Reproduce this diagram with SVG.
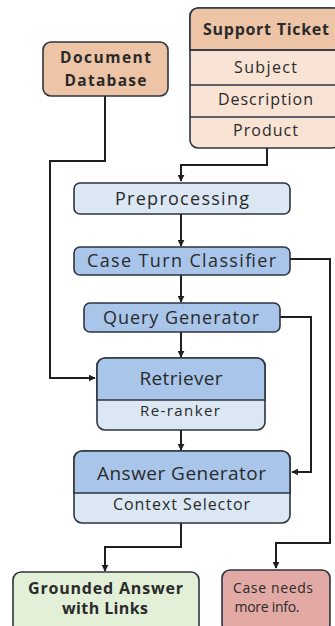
<svg xmlns="http://www.w3.org/2000/svg" width="335" height="626" viewBox="0 0 335 626">
<defs>
<marker id="ah" viewBox="0 0 10 10" refX="9" refY="5" markerWidth="7" markerHeight="7" markerUnits="userSpaceOnUse" orient="auto">
<path d="M0,0 L10,5 L0,10 z" fill="#1f1f1f"/>
</marker>
<style>
text{font-family:"Open Sans","Noto Sans","Liberation Sans",sans-serif;fill:#2a2a2a;text-anchor:middle}
.b{font-weight:bold}
.box{stroke:#2c3540;stroke-width:1.6}
.peach{fill:#EEC4A6}
.peachL{fill:#F8E3D5}
.blue{fill:#A9C6EA}
.blueL{fill:#DCE7F4}
.green{fill:#E2F0D8}
.red{fill:#E3A9A4}
.conn{fill:none;stroke:#1f1f1f;stroke-width:2}
</style>
</defs>
<rect width="335" height="626" fill="#ffffff"/>

<g id="connectors">
<path class="conn" d="M105,96 V161 H50 V378 H95" marker-end="url(#ah)"/>
<path class="conn" d="M267,148 V165 H181 V181" marker-end="url(#ah)"/>
<path class="conn" d="M181,214 V246" marker-end="url(#ah)"/>
<path class="conn" d="M181,275 V302" marker-end="url(#ah)"/>
<path class="conn" d="M290,259 H330 V543 H276 V568" marker-end="url(#ah)"/>
<path class="conn" d="M280,317 H311 V472 H292" marker-end="url(#ah)"/>
<path class="conn" d="M181,332 V357" marker-end="url(#ah)"/>
<path class="conn" d="M181,430 V450" marker-end="url(#ah)"/>
<path class="conn" d="M181,523 V547 H105 V571" marker-end="url(#ah)"/>
</g>

<g id="document-database">
<rect class="box peach" x="43" y="42" width="125" height="54" rx="8"/>
<text class="b" x="105.5" y="63" font-size="15.5" textLength="91">Document</text>
<text class="b" x="105.5" y="86" font-size="15.5" textLength="82">Database</text>
</g>

<g id="support-ticket">
<rect class="box peachL" x="190" y="8" width="150" height="140" rx="8"/>
<path class="box peach" d="M190,50 V16 a8,8 0 0 1 8,-8 H340 V50 z"/>
<line class="box" x1="190" y1="50" x2="340" y2="50"/>
<line class="box" x1="190" y1="85" x2="340" y2="85"/>
<line class="box" x1="190" y1="117" x2="340" y2="117"/>
<text class="b" x="266" y="35" font-size="16" textLength="126">Support Ticket</text>
<text x="265.5" y="73" font-size="16" textLength="63">Subject</text>
<text x="265.5" y="105" font-size="16" textLength="95">Description</text>
<text x="265.5" y="136" font-size="16" textLength="65">Product</text>
</g>

<g id="preprocessing">
<rect class="box blueL" x="74" y="183" width="216" height="31" rx="6"/>
<text x="182" y="205" font-size="18" textLength="134">Preprocessing</text>
</g>

<g id="case-turn-classifier">
<rect class="box blue" x="74" y="247" width="216" height="28" rx="6"/>
<text x="181.5" y="267" font-size="18" textLength="189">Case Turn Classifier</text>
</g>

<g id="query-generator">
<rect class="box blue" x="84" y="303" width="196" height="29" rx="6"/>
<text x="181" y="324" font-size="18" textLength="156">Query Generator</text>
</g>

<g id="retriever">
<rect class="box blueL" x="97" y="358" width="168" height="72" rx="8"/>
<path class="box blue" d="M97,400 V366 a8,8 0 0 1 8,-8 H257 a8,8 0 0 1 8,8 V400 z"/>
<text x="181" y="385" font-size="19" textLength="83">Retriever</text>
<text x="180" y="416" font-size="15" textLength="80">Re-ranker</text>
</g>

<g id="answer-generator">
<rect class="box blueL" x="74" y="451" width="216" height="72" rx="8"/>
<path class="box blue" d="M74,493 V459 a8,8 0 0 1 8,-8 H282 a8,8 0 0 1 8,8 V493 z"/>
<text x="181.5" y="480" font-size="19" textLength="169">Answer Generator</text>
<text x="181.5" y="510" font-size="16" textLength="137">Context Selector</text>
</g>

<g id="grounded-answer">
<rect class="box green" x="13" y="572" width="186" height="62" rx="8"/>
<text class="b" x="105.5" y="594" font-size="16" textLength="155">Grounded Answer</text>
<text class="b" x="105" y="614" font-size="16" textLength="86">with Links</text>
</g>

<g id="case-needs-info">
<rect class="box red" x="222" y="570" width="108" height="62" rx="8"/>
<text x="273" y="593" font-size="14" textLength="80">Case needs</text>
<text x="267" y="612" font-size="14" textLength="65">more info.</text>
</g>
</svg>
